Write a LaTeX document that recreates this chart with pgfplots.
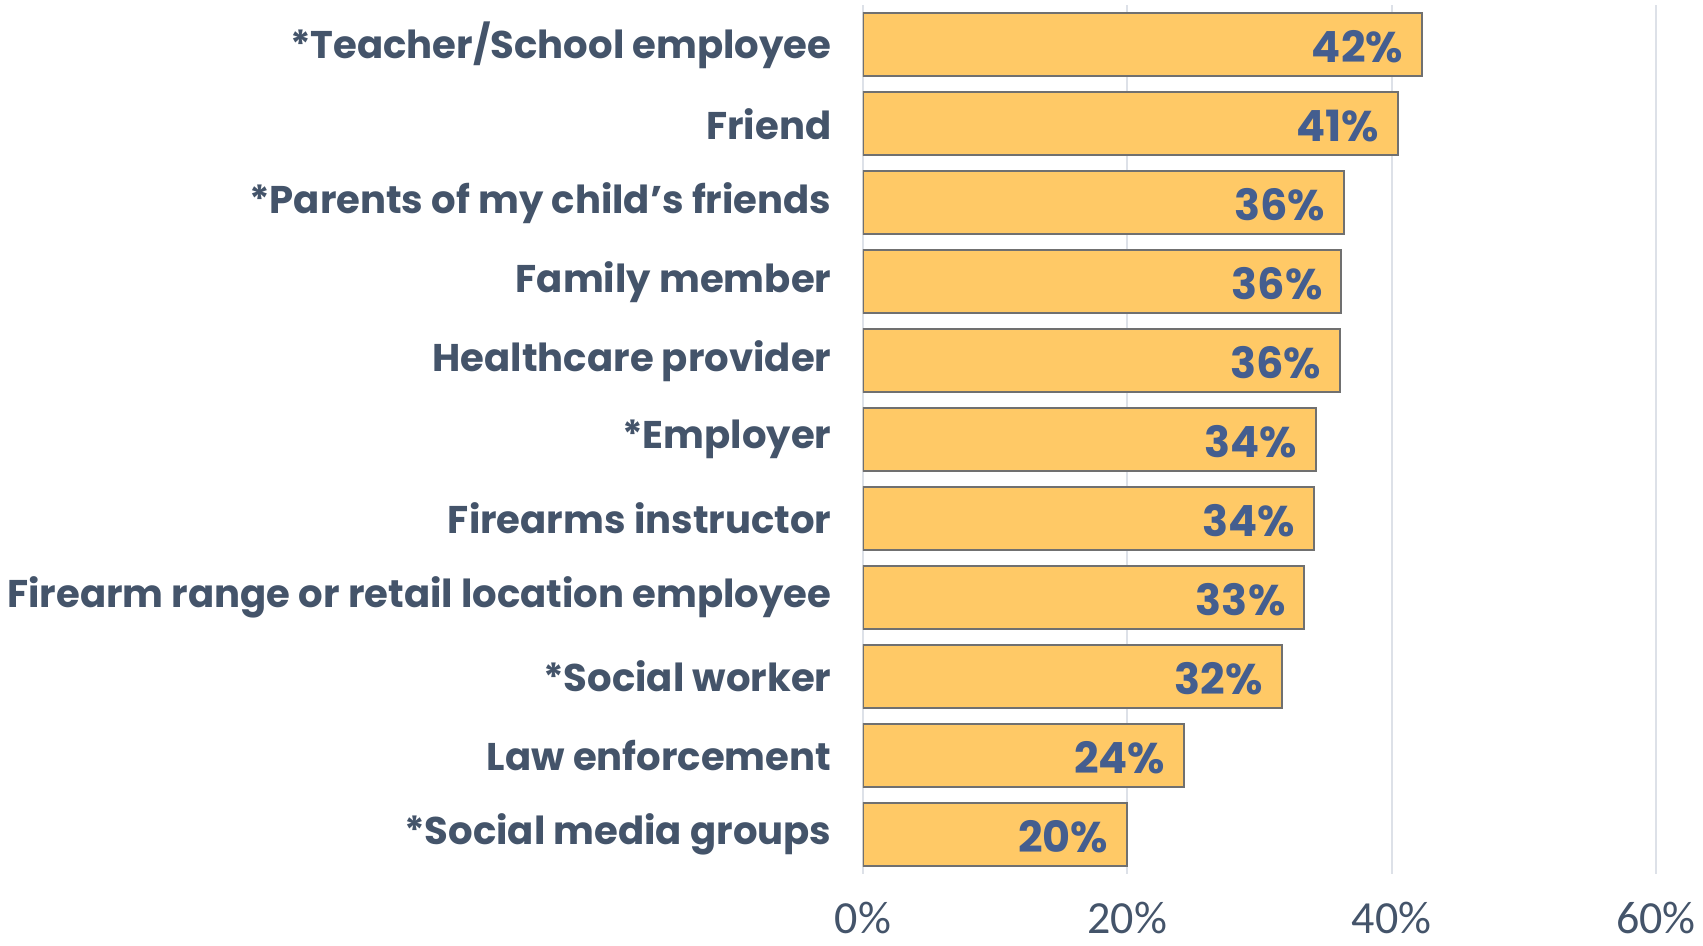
\documentclass[border=0pt]{standalone}
\usepackage{fontspec}
\setmainfont{Poppins}
\newfontfamily\tickfont{Carlito}
\usepackage{pgfplots}
\pgfplotsset{compat=1.18}
\definecolor{barfill}{HTML}{FFC966}
\definecolor{baredge}{HTML}{707070}
\definecolor{labelc}{HTML}{44546A}
\definecolor{valc}{HTML}{445E8F}
\definecolor{gridc}{HTML}{DDE1E8}

\begin{document}
\begin{tikzpicture}
\useasboundingbox (-431.5pt,-36pt) rectangle (420pt,437pt);
\begin{axis}[
  xbar, bar width=31.5pt,
  width=396.5pt, height=434.3pt, scale only axis,
  xmin=0, xmax=60, ymin=-0.5, ymax=10.5, y dir=reverse,
  xtick={0,20,40,60},
  xticklabel={\pgfmathprintnumber{\tick}\%},
  /pgf/number format/assume math mode=true,
  xticklabel style={font=\fontsize{23}{27}\selectfont\tickfont, text=labelc, yshift=-13pt, inner sep=1pt},
  ytick={0,...,10},
  yticklabels={*Teacher/School employee, Friend, *Parents of my child’s friends,
    Family member, Healthcare provider, *Employer, Firearms instructor,
    Firearm range or retail location employee, *Social worker,
    Law enforcement, *Social media groups},
  yticklabel style={font=\fontsize{19.3}{24}\selectfont\bfseries, text=labelc, xshift=-8pt},
  axis line style={draw=none},
  tick style={draw=none},
  xmajorgrids, grid style={gridc, line width=1pt},
  point meta=explicit,
  nodes near coords={\pgfmathprintnumber{\pgfplotspointmeta}\%},
  nodes near coords style={anchor=east, inner sep=0pt, xshift=-9pt, yshift=-1pt,
    font=\fontsize{21.5}{25}\selectfont\bfseries, text=valc},
]
\addplot[fill=barfill, draw=baredge, line width=1pt] coordinates {
  (42.3,0) [42]
  (40.5,1) [41]
  (36.4,2) [36]
  (36.2,3) [36]
  (36.1,4) [36]
  (34.3,5) [34]
  (34.1,6) [34]
  (33.4,7) [33]
  (31.7,8) [32]
  (24.3,9) [24]
  (20.0,10) [20]
};
\end{axis}
\end{tikzpicture}
\end{document}
